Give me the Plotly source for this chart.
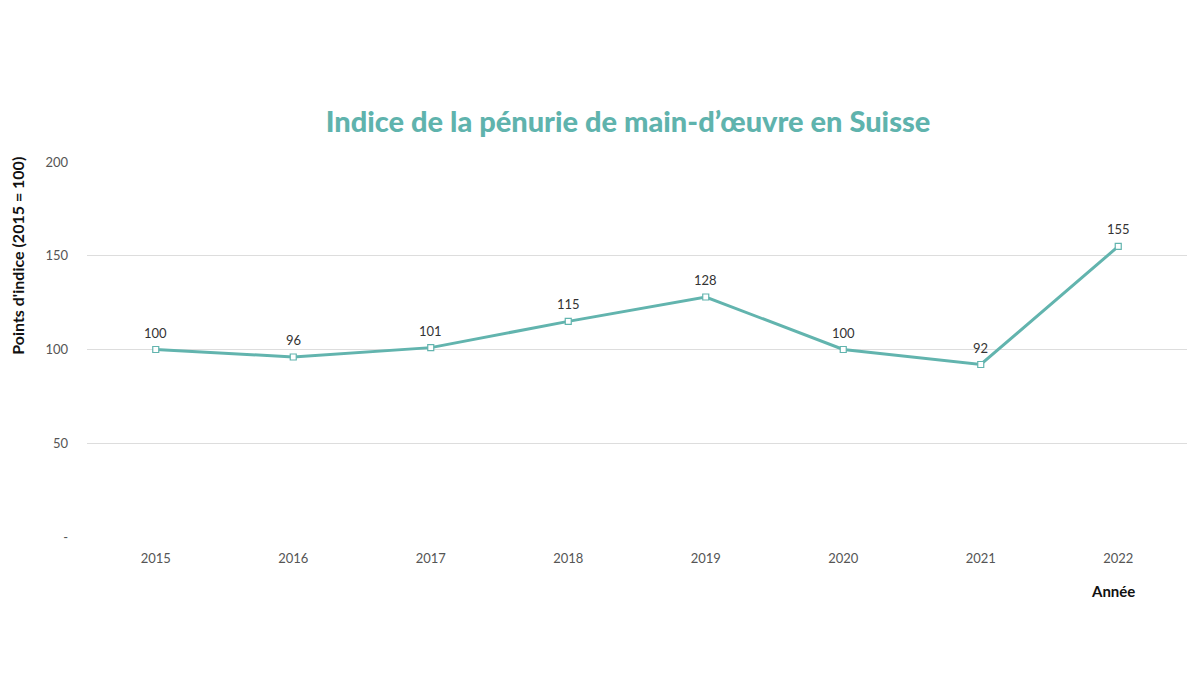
import plotly.graph_objects as go

years = ["2015", "2016", "2017", "2018", "2019", "2020", "2021", "2022"]
values = [100, 96, 101, 115, 128, 100, 92, 155]
y_tickvals = [0, 50, 100, 150, 200]
y_ticktext = ["-", "50", "100", "150", "200"]

teal = "#62b4ae"

fig = go.Figure()
fig.add_trace(go.Scatter(
    x=years, y=values,
    mode="lines+markers",
    line=dict(color=teal, width=3),
    marker=dict(symbol="square", size=6, color="white", line=dict(color=teal, width=1.2)),
    showlegend=False,
))

# category axis: annotation x given as category index
annotations = [
    dict(x=i, y=v, xref="x", yref="y", text=str(v), showarrow=False,
         yshift=17, yanchor="middle", xanchor="center",
         font=dict(family="Lato", size=13, color="#333333"))
    for i, v in enumerate(values)
]
annotations += [
    dict(text="<b>Année</b>", xref="paper", yref="paper", x=0.933, y=-0.144,
         xanchor="center", yanchor="middle", showarrow=False,
         font=dict(family="Lato", size=15, color="#111111")),
    dict(text="<b>Points d'indice (2015 = 100)</b>", xref="paper", yref="paper",
         x=-0.0627, y=0.75, textangle=-90, xanchor="center", yanchor="middle",
         showarrow=False, font=dict(family="Lato", size=16, color="#111111")),
]

fig.update_layout(
    width=1200, height=675,
    margin=dict(l=79, r=21, t=154, b=146),
    paper_bgcolor="white", plot_bgcolor="white",
    font=dict(family="Lato", color="#555555"),
    title=dict(
        text="Indice de la pénurie de main-d’œuvre en Suisse",
        x=0.5167, xanchor="center", y=0.831, yanchor="middle",
        font=dict(family="Lato", size=29, color="#5fb3ad", weight=900),
    ),
    xaxis=dict(
        type="category", range=[-0.5, 7.5],
        showgrid=False, showline=False, zeroline=False,
        ticks="", tickfont=dict(size=13, color="#555555"),
        ticklabelstandoff=12,
    ),
    yaxis=dict(
        range=[0, 200], tickvals=y_tickvals, ticktext=y_ticktext,
        showgrid=True, gridcolor="#dddddd", gridwidth=1,
        zeroline=False, showline=False, ticks="",
        tickfont=dict(size=13, color="#555555"),
        ticklabelstandoff=18,
    ),
    annotations=annotations,
)

fig.write_html("out.html")
